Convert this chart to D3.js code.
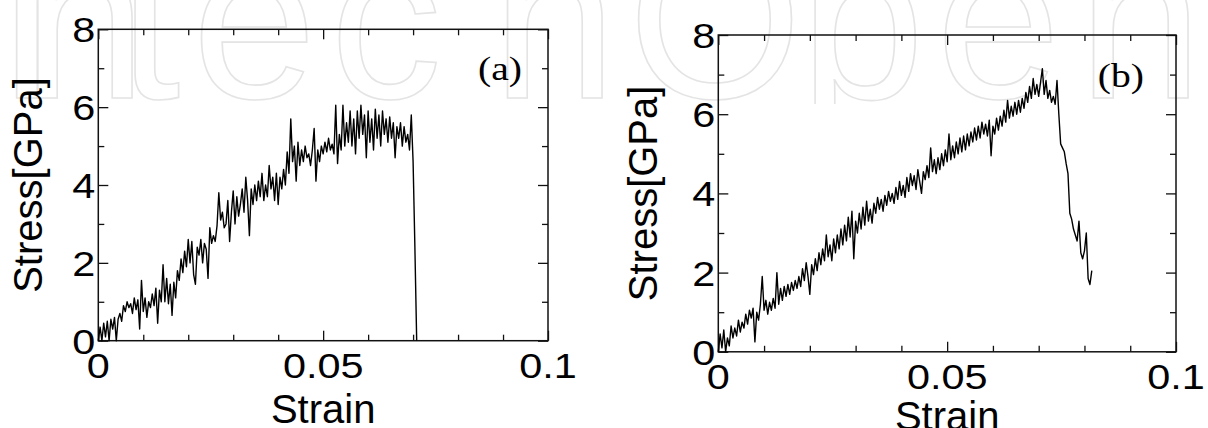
<!DOCTYPE html>
<html>
<head>
<meta charset="utf-8">
<script src="https://cdn.jsdelivr.net/npm/d3@7"></script>
<style>
  html, body { margin: 0; padding: 0; background: #fff; }
  svg { display: block; }
</style>
</head>
<body>
<svg id="fig" width="1208" height="428"></svg>
<script>
// Stress–strain curves of two tensile simulations, (a) and (b).
// Stress [GPa] sampled every strainStep of strain, starting at zero strain.
const strainStepA = 0.0004;
const stressA = [
  0.0, 0.35, 0.0, 0.45, 0.1, 0.5, 0.0, 0.55, 0.3, 0.6,
  0.0, 0.55, 0.7, 0.5, 0.9, 0.75, 1.0, 0.85, 0.95, 0.7,
  1.1, 0.8, 1.05, 0.3, 1.55, 0.75, 1.1, 0.6, 1.0, 0.85,
  1.2, 0.9, 1.35, 0.45, 1.3, 1.0, 1.95, 1.0, 1.6, 0.95,
  1.45, 0.65, 1.5, 1.1, 1.8, 1.55, 2.1, 1.75, 2.3, 1.9,
  2.6, 2.0, 2.55, 1.7, 1.45, 2.4, 2.2, 2.6, 2.0, 2.5,
  2.35, 1.6, 2.9, 2.5, 2.7, 2.55, 2.95, 3.8, 3.1, 3.3,
  2.9, 3.0, 3.6, 2.55, 3.3, 3.85, 3.0, 3.7, 3.2, 3.5,
  3.9, 3.3, 4.2, 3.6, 2.7, 3.9, 3.5, 4.0, 3.6, 4.1,
  3.7, 4.3, 3.6, 4.0, 3.7, 4.5, 3.9, 4.2, 3.6, 4.3,
  3.5, 4.2, 3.9, 4.4, 4.0, 4.85, 4.3, 5.7, 4.6, 5.0,
  4.1, 5.1, 4.5, 4.9, 4.6, 5.0, 4.7, 4.8, 4.5, 4.9,
  5.45, 4.1, 4.9, 4.6, 5.0, 4.8, 5.1, 4.85, 5.2, 4.9,
  5.05, 4.8, 6.05, 4.55, 5.3, 4.9, 6.05, 5.0, 5.6, 5.1,
  5.9, 5.0, 5.7, 4.8, 5.9, 5.2, 6.05, 5.3, 5.8, 4.7,
  5.9, 5.1, 5.7, 4.9, 5.95, 5.2, 5.8, 5.0, 5.9, 5.3,
  5.7, 5.1, 5.75, 5.2, 5.6, 4.7, 5.5, 5.2, 5.6, 5.0,
  5.5, 5.1, 5.3, 4.9, 5.8, 4.6, 2.4, 0.0
];

const strainStepB = 0.0004;
const stressB = [
  0.0, 0.45, 0.1, 0.55, 0.0, 0.35, 0.15, 0.65, 0.35, 0.6,
  0.4, 0.8, 0.5, 0.75, 0.6, 0.95, 0.7, 1.05, 0.85, 1.1,
  0.25, 1.0, 0.8, 1.2, 1.9, 1.05, 1.3, 0.95, 1.25, 1.05,
  1.35, 1.1, 2.0, 1.2, 1.6, 1.3, 1.65, 1.4, 1.7, 1.45,
  1.75, 1.55, 1.8, 1.6, 1.9, 1.65, 2.1, 1.8, 2.25, 1.9,
  1.45, 2.2, 1.95, 2.35, 2.05, 2.5, 2.2, 2.6, 2.3, 2.95,
  2.4, 2.7, 2.3, 2.85, 2.5, 2.95, 2.6, 3.1, 2.7, 3.2,
  2.8, 3.4, 2.9, 3.55, 2.35, 3.3, 3.0, 3.5, 3.1, 3.65,
  3.2, 3.8, 3.3, 3.6, 3.25, 3.75, 3.5, 3.9, 3.6, 3.85,
  3.55, 3.95, 3.7, 4.05, 3.8, 4.0, 3.75, 4.15, 3.85, 4.3,
  3.95, 4.2, 3.9, 4.4, 4.05, 4.5, 4.2, 4.45, 4.1, 4.6,
  4.3, 4.0, 4.55, 4.35, 4.7, 4.4, 5.15, 4.55, 4.85, 4.5,
  4.9, 4.6, 5.0, 4.7, 5.1, 4.8, 5.5, 4.85, 5.2, 4.9,
  5.3, 5.0, 5.4, 5.05, 5.45, 5.1, 5.5, 5.2, 5.55, 5.3,
  5.65, 5.35, 5.7, 5.4, 5.8, 5.5, 5.75, 5.45, 5.85, 4.95,
  5.7, 5.5, 5.9, 5.6, 5.95, 5.7, 6.1, 5.8, 6.35, 5.9,
  6.2, 5.95, 6.3, 6.0, 6.35, 6.05, 6.4, 6.15, 6.55, 6.3,
  6.7, 6.4, 6.9, 6.5, 6.75, 6.45, 6.8, 7.15, 6.5, 6.85,
  6.4, 6.6, 6.3, 6.45, 6.25, 6.85, 6.0, 5.25, 5.15, 5.05,
  4.75, 4.5, 3.5, 3.35, 3.1, 2.95, 2.8, 3.3, 2.5, 2.35,
  2.55, 3.0, 1.85, 1.7, 2.05
];

// Axis settings shared by both panels
const strainDomain = [0, 0.1];
const stressDomain = [0, 8];
const strainMajorTicks = [0, 0.05, 0.1];
const strainTickLabels = ["0", "0.05", "0.1"];
const strainMinorTicks = [0.01, 0.02, 0.03, 0.04, 0.06, 0.07, 0.08, 0.09];
const stressMajorTicks = [0, 2, 4, 6, 8];
const stressTickLabels = ["0", "2", "4", "6", "8"];
const stressMinorTicks = [1, 3, 5, 7];
const xTitle = "Strain";
const yTitle = "Stress[GPa]";
const panelTags = ["(a)", "(b)"];

const svg = d3.select("#fig");

// Faint publisher mark behind the plots
svg.append("clipPath").attr("id", "markClip")
  .append("rect").attr("x", 0).attr("y", 0).attr("width", 1208).attr("height", 104);
const mark = svg.append("g").attr("clip-path", "url(#markClip)");
const markLetters = ["I", "n", "t", "e", "c", "h", "O", "p", "e", "n"];
const markX = [-4, 22, 118, 192, 330, 492, 628, 800, 936, 1078];
mark.append("text")
  .attr("y", 98)
  .attr("font-family", "'Liberation Sans', Arial, sans-serif")
  .attr("font-size", 224)
  .attr("fill", "none")
  .attr("stroke", "#e4e4e4")
  .attr("stroke-width", 1.6)
  .selectAll("tspan")
  .data(markLetters)
  .join("tspan")
  .attr("x", (d, i) => markX[i])
  .text(d => d);

const panels = [
  { left: 98.3, right: 548, top: 29.3, bottom: 340.7, step: strainStepA, stress: stressA,
    tag: panelTags[0], tagX: 522, tagY: 80, yTitleX: 42, xTitleY: 423 },
  { left: 718.3, right: 1176, top: 35, bottom: 351.8, step: strainStepB, stress: stressB,
    tag: panelTags[1], tagX: 1144, tagY: 87, yTitleX: 657, xTitleY: 430 }
];

const sans = "'Liberation Sans', Arial, Helvetica, sans-serif";
const serif = "'Liberation Serif', 'Times New Roman', serif";

panels.forEach(p => {
  const x = d3.scaleLinear().domain(strainDomain).range([p.left, p.right]);
  const y = d3.scaleLinear().domain(stressDomain).range([p.bottom, p.top]);
  const g = svg.append("g");

  // inward ticks on all four sides
  const addAxis = (axis, tx, ty) => {
    const a = g.append("g").attr("transform", `translate(${tx},${ty})`).call(axis);
    a.select(".domain").remove();
    a.selectAll("line").attr("stroke", "#111").attr("stroke-width", 1.3);
    a.selectAll("text").remove();
  };
  addAxis(d3.axisBottom(x).tickValues(strainMinorTicks).tickSize(-6), 0, p.bottom);
  addAxis(d3.axisBottom(x).tickValues(strainMajorTicks).tickSize(-10), 0, p.bottom);
  addAxis(d3.axisTop(x).tickValues(strainMinorTicks).tickSize(-6), 0, p.top);
  addAxis(d3.axisTop(x).tickValues(strainMajorTicks).tickSize(-10), 0, p.top);
  addAxis(d3.axisLeft(y).tickValues(stressMinorTicks).tickSize(-6), p.left, 0);
  addAxis(d3.axisLeft(y).tickValues(stressMajorTicks).tickSize(-10), p.left, 0);
  addAxis(d3.axisRight(y).tickValues(stressMinorTicks).tickSize(-6), p.right, 0);
  addAxis(d3.axisRight(y).tickValues(stressMajorTicks).tickSize(-10), p.right, 0);

  // frame
  g.append("rect")
    .attr("x", p.left).attr("y", p.top)
    .attr("width", p.right - p.left).attr("height", p.bottom - p.top)
    .attr("fill", "none").attr("stroke", "#111").attr("stroke-width", 1.5);

  // curve
  const pts = p.stress.map((v, i) => ({ s: i * p.step, v }));
  g.append("path")
    .datum(pts)
    .attr("fill", "none")
    .attr("stroke", "#000")
    .attr("stroke-width", 1.4)
    .attr("stroke-linejoin", "round")
    .attr("d", d3.line().x(d => x(d.s)).y(d => y(d.v)));

  // tick labels (wide Helvetica digits)
  g.selectAll(".xl").data(strainMajorTicks).join("text")
    .attr("transform", d => `translate(${x(d)},${p.bottom + 37}) scale(1.15,1)`)
    .attr("text-anchor", "middle")
    .attr("font-family", sans).attr("font-size", 36).attr("fill", "#000")
    .text((d, i) => strainTickLabels[i]);
  g.selectAll(".yl").data(stressMajorTicks).join("text")
    .attr("transform", d => `translate(${p.left - 3},${y(d) + 13}) scale(1.15,1)`)
    .attr("text-anchor", "end")
    .attr("font-family", sans).attr("font-size", 36).attr("fill", "#000")
    .text((d, i) => stressTickLabels[i]);

  // axis titles
  g.append("text")
    .attr("x", (p.left + p.right) / 2).attr("y", p.xTitleY)
    .attr("text-anchor", "middle")
    .attr("font-family", sans).attr("font-size", 40).attr("fill", "#000")
    .text(xTitle);
  g.append("text")
    .attr("transform", `translate(${p.yTitleX},${(p.top + p.bottom) / 2}) rotate(-90)`)
    .attr("text-anchor", "middle")
    .attr("font-family", sans).attr("font-size", 40).attr("fill", "#000")
    .text(yTitle);

  // panel tag
  g.append("text")
    .attr("transform", `translate(${p.tagX},${p.tagY}) scale(1.2,1)`)
    .attr("text-anchor", "end")
    .attr("font-family", serif).attr("font-size", 33).attr("fill", "#000")
    .text(p.tag);
});
</script>
</body>
</html>
